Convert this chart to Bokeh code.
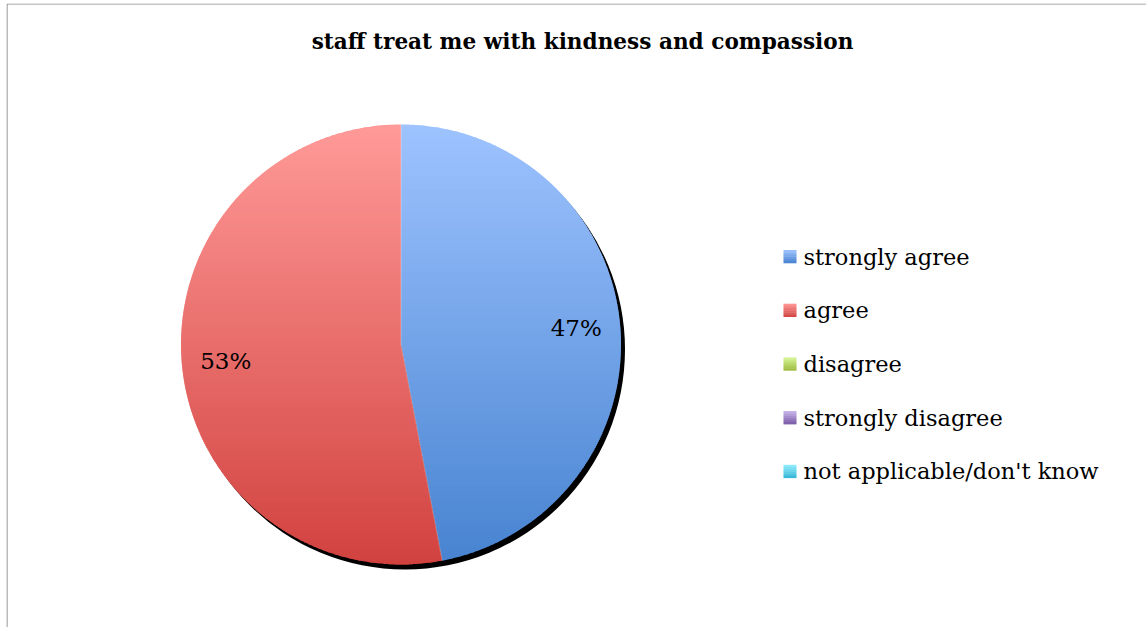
import numpy as np
from bokeh.plotting import figure
from bokeh.models import Range1d
from bokeh.core.properties import value
from bokeh.embed import file_html
from bokeh.resources import INLINE

# ---- data ----
categories = ["strongly agree", "agree", "disagree", "strongly disagree", "not applicable/don't know"]
values = [47, 53, 0, 0, 0]
title_text = "staff treat me with kindness and compassion"
top_colors = ["#9EC3FF", "#FF9A98", "#D9F79C", "#C6B2EA", "#95EFFF"]
bottom_colors = ["#4783D0", "#D1423F", "#9BBA3A", "#7A5AA5", "#31B3D5"]

# ---- layout (page pixels) ----
W, H = 1140, 624
OX, OY = 6, 3           # page position of figure origin
CX, CY, R = 400.5 - OX, 344.0 - OY, 220.0
LEG_X, LEG_Y0, LEG_DY, SQ = 783 - OX, 256 - OY, 53.7, 13

p = figure(width=W, height=H, x_range=Range1d(0, W), y_range=Range1d(H, 0),
           output_backend="svg", toolbar_location=None, min_border=0)
p.styles = {"margin-left": f"{OX}px", "margin-top": f"{OY}px"}
p.axis.visible = False
p.grid.visible = False
p.outline_line_color = None
p.background_fill_color = "white"

# chart border (top and left visible)
p.segment(x0=[0.5, 0.5], y0=[0.5, 0.5], x1=[W, 0.5], y1=[0.5, H],
          line_color="#8c8c8c", line_width=1.2)


def hex2rgb(h):
    return np.array([int(h[i:i + 2], 16) for i in (1, 3, 5)], float)


def mix(c0, c1, t):
    c = hex2rgb(c0) * (1 - t) + hex2rgb(c1) * t
    return "#%02x%02x%02x" % tuple(int(round(v)) for v in c)


def clip(poly, y0, y1):
    def clip_half(pts, keep, yc):
        out = []
        n = len(pts)
        for i in range(n):
            a, b = pts[i], pts[(i + 1) % n]
            ina, inb = keep(a[1]), keep(b[1])
            if ina:
                out.append(a)
            if ina != inb:
                t = (yc - a[1]) / (b[1] - a[1])
                out.append((a[0] + t * (b[0] - a[0]), yc))
        return out
    pts = clip_half(poly, lambda y: y >= y0, y0)
    if pts:
        pts = clip_half(pts, lambda y: y <= y1, y1)
    return pts


# shadow
p.circle(x=[CX + 4], y=[CY + 5], radius=R, fill_color="black", line_color=None)

total = float(sum(values))
fracs = [v / total for v in values]
starts = np.concatenate([[0], np.cumsum(fracs)[:-1]]) * 2 * np.pi
ends = np.cumsum(fracs) * 2 * np.pi

nb = 220
edges = np.linspace(CY - R - 1, CY + R + 1, nb + 1)
xs, ys, cols = [], [], []
for i, f in enumerate(fracs):
    if f <= 0:
        continue
    th = np.linspace(starts[i], ends[i], 360)
    poly = [(CX, CY)] + [(CX + R * np.sin(t), CY - R * np.cos(t)) for t in th]
    for b in range(nb):
        pts = clip(poly, edges[b], edges[b + 1] + 1.0)
        if len(pts) < 3:
            continue
        tmid = ((edges[b] + edges[b + 1]) / 2 - (CY - R)) / (2 * R)
        tmid = min(max(tmid, 0), 1)
        xs.append([q[0] for q in pts])
        ys.append([q[1] for q in pts])
        cols.append(mix(top_colors[i], bottom_colors[i], tmid))
p.patches(xs=xs, ys=ys, fill_color=cols, line_color=None)

# slice separators
for i, f in enumerate(fracs):
    if f <= 0:
        continue
    t = starts[i]
    p.line(x=[CX, CX + R * np.sin(t)], y=[CY, CY - R * np.cos(t)],
           line_color="white", line_alpha=0.35, line_width=0.8)

# data labels
for i, f in enumerate(fracs):
    if f <= 0:
        continue
    mid = (starts[i] + ends[i]) / 2
    p.text(x=[CX + 0.8 * R * np.sin(mid)], y=[CY - 0.8 * R * np.cos(mid)],
           text=[f"{round(values[i] / total * 100):d}%"],
           text_font=value("DejaVu Serif"), text_font_size="23px",
           text_align="center", text_baseline="middle", text_color="black")

# title
p.text(x=[582 - OX], y=[41 - OY], text=[title_text], text_font=value("DejaVu Serif"),
       text_font_size="21.6px", text_font_style="bold", text_align="center",
       text_baseline="middle", text_color="black")

# legend
for k, cat in enumerate(categories):
    yc = LEG_Y0 + k * LEG_DY
    ns = 6
    hs = SQ / ns
    for s in range(ns):
        p.quad(left=[LEG_X], right=[LEG_X + SQ],
               top=[yc - SQ / 2 + s * hs], bottom=[yc - SQ / 2 + (s + 1) * hs + 0.3],
               fill_color=mix(top_colors[k], bottom_colors[k], (s + 0.5) / ns), line_color=None)
    p.text(x=[LEG_X + SQ + 7], y=[yc], text=[cat], text_font=value("DejaVu Serif"),
           text_font_size="22.5px", text_align="left", text_baseline="middle", text_color="black")

open("out.html", "w").write(file_html(p, INLINE))
